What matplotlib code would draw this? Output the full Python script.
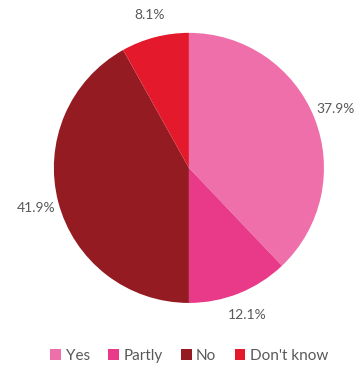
import matplotlib
matplotlib.use("Agg")
import matplotlib.pyplot as plt
from matplotlib.patches import Patch

categories = ["Yes", "Partly", "No", "Don't know"]
values = [37.9, 12.1, 41.9, 8.1]
colors = ["#EF6FAA", "#E83A88", "#951B22", "#E41A2C"]

plt.rcParams['font.family'] = ['Lato', 'DejaVu Sans']

fig = plt.figure(figsize=(3.64, 3.65), dpi=100)
ax = fig.add_axes([0.148, 0.170, 0.742, 0.740])
wedges, texts, autotexts = ax.pie(values, colors=colors, startangle=90, counterclock=False,
                                  autopct=lambda p: f"{p:.1f}%", pctdistance=1.17,
                                  wedgeprops=dict(linewidth=0))
for t in autotexts:
    t.set_color("#595959")
    t.set_fontsize(10)
ax.set_aspect("equal")
ax.set_xlim(-1, 1)
ax.set_ylim(-1, 1)

handles = [Patch(facecolor=c, edgecolor="none") for c in colors]
leg = fig.legend(handles, categories, loc="center", bbox_to_anchor=(0.52, 0.025), ncol=4,
                 frameon=False, fontsize=11, handlelength=0.7, handleheight=0.7,
                 handletextpad=0.3, columnspacing=1.2, labelcolor="#595959")
fig.savefig("out.png", dpi=100)
